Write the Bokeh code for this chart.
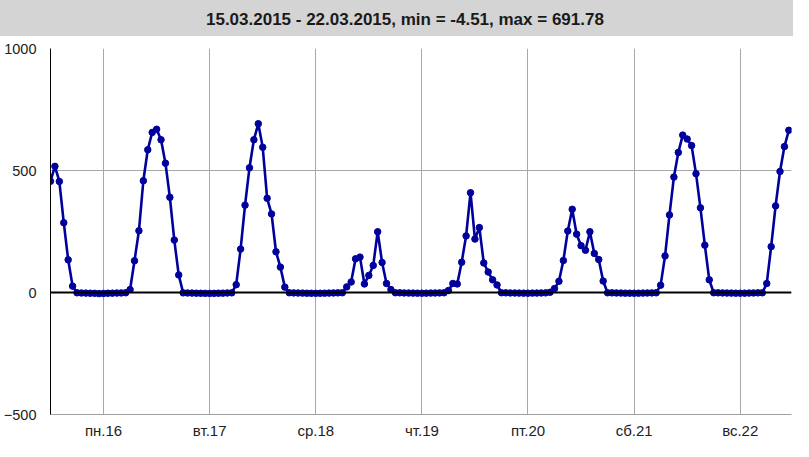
from bokeh.plotting import figure
from bokeh.layouts import column, row
from bokeh.models import FixedTicker, Span, Range1d, ColumnDataSource
from bokeh.core.properties import value
from bokeh.embed import file_html
from bokeh.resources import INLINE

title_text = "15.03.2015 - 22.03.2015, min = -4.51, max = 691.78"

# hourly values starting 15.03 12:00
day15 = [456, 517, 455, 286, 134, 26,
         -1.2, -2.0, -2.5, -3.1, -3.4, -4.51, -3.8, -3.0, -2.6, -2.2, -1.8, -1.0]
day16 = [12, 130, 253, 458, 585, 656, 669, 626, 530, 390, 215, 72,
         -1.5, -2.0, -2.4, -2.8, -3.2, -3.5, -3.6, -3.4, -3.0, -2.6, -2.0, -1.4]
day17 = [32, 178, 358, 511, 626, 691.78, 595, 386, 322, 167, 104, 22,
         -1.0, -1.6, -2.1, -2.5, -2.9, -3.2, -3.3, -3.1, -2.8, -2.4, -1.9, -1.5, -1.0]
day18 = [23, 43, 138, 145, 35, 70, 111, 249, 123, 37, 12,
         -1.0, -1.3, -1.8, -2.2, -2.5, -2.7, -2.8, -2.6, -2.3, -2.0, -1.6, -1.2]
day19 = [8, 37, 35, 124, 232, 409, 219, 266, 121, 84, 52, 31,
         -1.0, -1.4, -1.8, -2.1, -2.4, -2.6, -2.7, -2.5, -2.2, -1.9, -1.5, 1.0]
day20 = [16, 46, 131, 252, 341, 239, 192, 173, 249, 160, 135, 47,
         -1.1, -1.5, -1.9, -2.3, -2.6, -2.8, -2.9, -2.7, -2.4, -2.0, -1.6, -1.2]
day21 = [30, 150, 318, 473, 574, 645, 629, 602, 487, 347, 194, 52,
         -1.0, -1.4, -1.8, -2.2, -2.5, -2.7, -2.8, -2.6, -2.3, -1.9, -1.5, -1.1]
day22 = [37, 188, 355, 496, 598, 665]

values = day15 + day16 + day17 + day18 + day19 + day20 + day21 + day22
hours = list(range(len(values)))

day_labels = ["пн.16", "вт.17", "ср.18", "чт.19", "пт.20", "сб.21", "вс.22"]
day_ticks = [12 + 24 * k for k in range(len(day_labels))]
y_ticks = [-500, 0, 500, 1000]

W = 793
LEFT = 50
RIGHT = 2
FONT = "Liberation Sans"
BAND = "#d4d4d4"

# ---- title bar ----
t = figure(width=W, height=36, output_backend="svg", toolbar_location=None,
           x_range=Range1d(0, 1), y_range=Range1d(0, 1),
           min_border=0, styles={"background-color": BAND})
t.axis.visible = False
t.grid.visible = False
t.outline_line_color = None
t.background_fill_color = BAND
t.border_fill_color = BAND
t.text(x=[0.51], y=[0.47], text=[title_text], text_align="center",
       text_baseline="middle", text_font=value(FONT), text_font_size="17px",
       text_font_style="bold", text_color="#1a1a1a")

# ---- main chart ----
p = figure(width=W, height=405, output_backend="svg", toolbar_location=None,
           x_range=Range1d(0, 167.6), y_range=Range1d(-500, 1000),
           min_border_left=LEFT, min_border_right=RIGHT, min_border_top=12,
           min_border_bottom=25)
p.outline_line_color = None
p.background_fill_color = "white"

p.yaxis.ticker = FixedTicker(ticks=y_ticks)
p.yaxis.major_tick_line_color = None
p.yaxis.minor_tick_line_color = None
p.yaxis.major_tick_out = 0
p.yaxis.major_tick_in = 0
p.yaxis.minor_tick_out = 0
p.yaxis.axis_line_color = "black"
p.yaxis.axis_line_width = 1
p.yaxis.major_label_text_font = FONT
p.yaxis.major_label_text_font_size = "14.5px"
p.yaxis.major_label_text_color = "#222222"
p.yaxis.major_label_standoff = 14

p.xaxis.ticker = FixedTicker(ticks=day_ticks)
p.xaxis.major_label_overrides = {tk: lb for tk, lb in zip(day_ticks, day_labels)}
p.xaxis.major_tick_line_color = None
p.xaxis.minor_tick_line_color = None
p.xaxis.major_tick_out = 0
p.xaxis.major_tick_in = 0
p.xaxis.minor_tick_out = 0
p.xaxis.axis_line_color = "#a0a0a0"
p.xaxis.major_label_text_font = FONT
p.xaxis.major_label_text_font_size = "15px"
p.xaxis.major_label_text_color = "#222222"
p.xaxis.major_label_standoff = 7

p.xgrid.grid_line_color = "#a8a8a8"
p.ygrid.grid_line_color = "#a8a8a8"
p.xgrid.grid_line_width = 1
p.ygrid.grid_line_width = 1

p.add_layout(Span(location=0, dimension="width", line_color="black", line_width=2))

src = ColumnDataSource(dict(x=hours, y=values))
p.line("x", "y", source=src, line_color="#00009c", line_width=2.6)
p.scatter("x", "y", source=src, size=6.5, fill_color="#00009c", line_color="#00009c")

layout = column(row(t), p, spacing=0)
open("out.html", "w").write(file_html(layout, INLINE))
